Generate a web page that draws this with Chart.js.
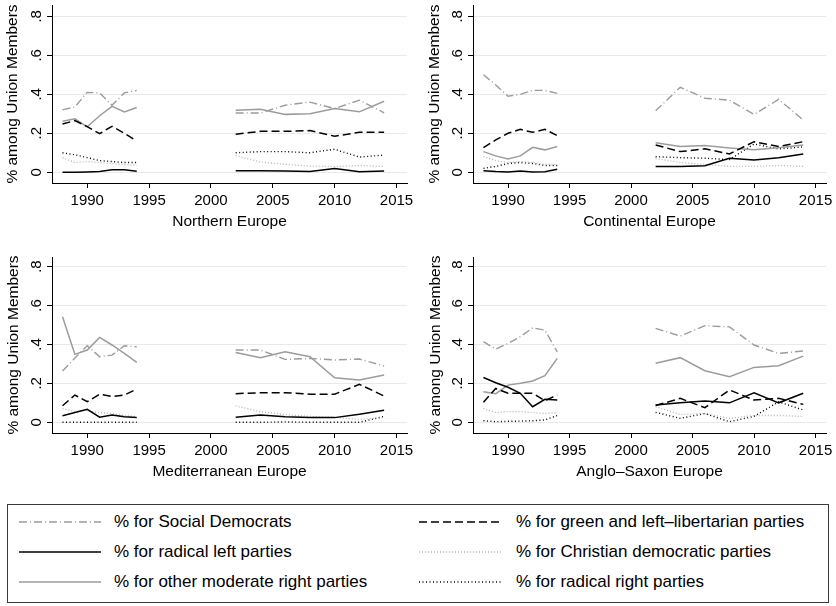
<!DOCTYPE html>
<html>
<head>
<meta charset="utf-8">
<script src="https://cdn.jsdelivr.net/npm/chart.js@4.4.1/dist/chart.umd.min.js"></script>
<style>
  html, body { margin: 0; padding: 0; background: #fff; }
  body { width: 836px; height: 606px; position: relative; overflow: hidden;
         font-family: "Liberation Sans", Arial, Helvetica, sans-serif; }
  canvas { position: absolute; }
  #legend { position: absolute; left: 7px; top: 504px; width: 822px; height: 99px;
            border: 1px solid #3a3a3a; box-sizing: border-box; }
  .lg-line { position: absolute; }
  .lg-text { position: absolute; font-size: 17px; line-height: 20px; color: #000; white-space: nowrap; }
</style>
</head>
<body>
<canvas id="pNorth"></canvas>
<canvas id="pCont"></canvas>
<canvas id="pMed"></canvas>
<canvas id="pAnglo"></canvas>
<div id="legend"></div>

<script>
// Survey waves: early annual waves and the biennial waves from 2002 on
const years1 = [1988, 1989, 1990, 1991, 1992, 1993, 1994];
const years2 = [2002, 2004, 2006, 2008, 2010, 2012, 2014];

const xTicks = [1990, 1995, 2000, 2005, 2010, 2015];
const yTicks = [0, 0.2, 0.4, 0.6, 0.8];
const yTickLabels = ['0', '.2', '.4', '.6', '.8'];

const regionNames = ['Northern Europe', 'Continental Europe', 'Mediterranean Europe', 'Anglo\u2013Saxon Europe'];
const yTitle = '% among Union Members';

// Series, in legend order (row by row)
const seriesLabels = [
  '% for Social Democrats',
  '% for green and left\u2013libertarian parties',
  '% for radical left parties',
  '% for Christian democratic parties',
  '% for other moderate right parties',
  '% for radical right parties'
];

// Northern Europe (first 7 values: 1988-1994, last 7: 2002-2014)
const northSocDem   = [0.320, 0.335, 0.410, 0.407, 0.344, 0.407, 0.420,  0.304, 0.304, 0.344, 0.360, 0.327, 0.370, 0.305];
const northGreen    = [0.248, 0.265, 0.234, 0.198, 0.236, 0.200, 0.160,  0.195, 0.210, 0.210, 0.214, 0.185, 0.205, 0.205];
const northRadLeft  = [0.000, 0.000, 0.002, 0.004, 0.013, 0.013, 0.005,  0.008, 0.008, 0.006, 0.004, 0.019, 0.003, 0.007];
const northChrist   = [0.075, 0.050, 0.055, 0.050, 0.045, 0.040, 0.035,  0.085, 0.053, 0.040, 0.032, 0.030, 0.035, 0.030];
const northModRight = [0.262, 0.274, 0.233, 0.290, 0.338, 0.310, 0.332,  0.318, 0.323, 0.297, 0.300, 0.327, 0.310, 0.364];
const northRadRight = [0.100, 0.090, 0.075, 0.060, 0.055, 0.050, 0.050,  0.100, 0.106, 0.106, 0.100, 0.118, 0.078, 0.088];

// Continental Europe
const contSocDem   = [0.500, 0.448, 0.390, 0.400, 0.420, 0.420, 0.405,  0.315, 0.436, 0.380, 0.370, 0.297, 0.374, 0.268];
const contGreen    = [0.126, 0.166, 0.200, 0.220, 0.205, 0.220, 0.188,  0.140, 0.106, 0.120, 0.094, 0.157, 0.132, 0.157];
const contRadLeft  = [0.008, 0.004, 0.002, 0.007, 0.002, 0.003, 0.015,  0.029, 0.029, 0.034, 0.072, 0.063, 0.075, 0.094];
const contChrist   = [0.080, 0.060, 0.050, 0.055, 0.050, 0.040, 0.040,  0.070, 0.050, 0.040, 0.030, 0.030, 0.035, 0.030];
const contModRight = [0.106, 0.084, 0.068, 0.084, 0.128, 0.115, 0.132,  0.152, 0.132, 0.137, 0.125, 0.116, 0.126, 0.140];
const contRadRight = [0.020, 0.030, 0.045, 0.050, 0.045, 0.035, 0.035,  0.080, 0.075, 0.072, 0.065, 0.145, 0.120, 0.130];

// Mediterranean Europe
const medSocDem   = [0.263, 0.330, 0.393, 0.337, 0.345, 0.393, 0.388,  0.371, 0.371, 0.323, 0.328, 0.320, 0.325, 0.289];
const medGreen    = [0.085, 0.140, 0.106, 0.144, 0.132, 0.140, 0.171,  0.147, 0.152, 0.152, 0.144, 0.144, 0.195, 0.135];
const medRadLeft  = [0.034, 0.050, 0.067, 0.026, 0.038, 0.029, 0.024,  0.026, 0.038, 0.029, 0.024, 0.024, 0.041, 0.062];
const medChrist   = [0.070, 0.055, 0.060, 0.050, 0.045, 0.035, 0.030,  0.084, 0.055, 0.040, 0.030, 0.025, 0.015, 0.025];
const medModRight = [0.542, 0.349, 0.371, 0.436, 0.397, 0.354, 0.308,  0.359, 0.332, 0.362, 0.337, 0.229, 0.217, 0.243];
const medRadRight = [0.000, 0.000, 0.000, 0.000, 0.000, 0.000, 0.000,  0.000, 0.000, 0.002, 0.000, 0.000, 0.000, 0.030];

// Anglo-Saxon Europe
const angloSocDem   = [0.414, 0.376, 0.405, 0.440, 0.485, 0.473, 0.362,  0.482, 0.443, 0.496, 0.490, 0.397, 0.354, 0.366];
const angloGreen    = [0.103, 0.174, 0.149, 0.149, 0.149, 0.111, 0.140,  0.086, 0.123, 0.075, 0.166, 0.114, 0.123, 0.092];
const angloRadLeft  = [0.230, 0.203, 0.180, 0.149, 0.080, 0.118, 0.114,  0.089, 0.100, 0.109, 0.100, 0.152, 0.100, 0.149];
const angloChrist   = [0.072, 0.049, 0.055, 0.055, 0.050, 0.045, 0.050,  0.080, 0.040, 0.045, 0.020, 0.035, 0.035, 0.030];
const angloModRight = [0.157, 0.147, 0.191, 0.200, 0.212, 0.239, 0.328,  0.303, 0.332, 0.265, 0.234, 0.282, 0.291, 0.340];
const angloRadRight = [0.008, 0.003, 0.005, 0.006, 0.008, 0.012, 0.035,  0.051, 0.020, 0.045, 0.003, 0.030, 0.105, 0.063];

const regionSeries = [
  [northSocDem, northGreen, northRadLeft, northChrist, northModRight, northRadRight],
  [contSocDem, contGreen, contRadLeft, contChrist, contModRight, contRadRight],
  [medSocDem, medGreen, medRadLeft, medChrist, medModRight, medRadRight],
  [angloSocDem, angloGreen, angloRadLeft, angloChrist, angloModRight, angloRadRight]
];

// Line styles, one per series (same order as seriesLabels)
const lineStyles = [
  { color: '#9c9c9c', width: 1.4, dash: [8, 3, 1, 3] },   // dash-dot grey
  { color: '#000000', width: 1.5, dash: [8, 4] },         // dashed black
  { color: '#000000', width: 1.5, dash: [] },             // solid black
  { color: '#b4b4b4', width: 1.3, dash: [1, 2] },         // dotted light grey
  { color: '#9c9c9c', width: 1.5, dash: [] },             // solid grey
  { color: '#000000', width: 1.4, dash: [1, 2.5] }        // dotted black
];

// Canvas placement and plot-area geometry per panel
const panelLayout = [
  { id: 'pNorth', left: 0,   top: 0,   w: 416, h: 245, aL: 52, aR: 407, aT: 5,  aB: 183, yMax: 0.858, titlePad: 13.5, yTitlePad: 3.5 },
  { id: 'pCont',  left: 416, top: 0,   w: 420, h: 245, aL: 57, aR: 410, aT: 5,  aB: 183, yMax: 0.858, titlePad: 13.5, yTitlePad: 9.5 },
  { id: 'pMed',   left: 0,   top: 245, w: 416, h: 245, aL: 52, aR: 407, aT: 12, aB: 188, yMax: 0.849, titlePad: 9,    yTitlePad: 4.5 },
  { id: 'pAnglo', left: 416, top: 245, w: 420, h: 245, aL: 57, aR: 410, aT: 12, aB: 188, yMax: 0.849, titlePad: 9,    yTitlePad: 10 }
];

const FONT = '"Liberation Sans", Arial, Helvetica, sans-serif';

function toPoints(values) {
  const pts = years1.map((yr, i) => ({ x: yr, y: values[i] }));
  pts.push({ x: 1998, y: null });           // break between the two survey periods
  years2.forEach((yr, i) => pts.push({ x: yr, y: values[7 + i] }));
  return pts;
}

function buildPanel(idx) {
  const L = panelLayout[idx];
  const cv = document.getElementById(L.id);
  cv.width = L.w; cv.height = L.h;
  cv.style.left = L.left + 'px'; cv.style.top = L.top + 'px';
  cv.style.width = L.w + 'px'; cv.style.height = L.h + 'px';

  const datasets = regionSeries[idx].map((vals, s) => ({
    label: seriesLabels[s],
    data: toPoints(vals),
    borderColor: lineStyles[s].color,
    borderWidth: lineStyles[s].width,
    borderDash: lineStyles[s].dash,
    pointRadius: 0,
    pointHoverRadius: 0,
    tension: 0,
    fill: false,
    spanGaps: false
  }));

  new Chart(cv, {
    type: 'line',
    data: { datasets },
    options: {
      responsive: false,
      animation: false,
      devicePixelRatio: 1,
      events: [],
      layout: { padding: { left: 0, right: L.w - L.aR, top: L.aT, bottom: 0 } },
      plugins: { legend: { display: false }, tooltip: { enabled: false }, title: { display: false } },
      scales: {
        x: {
          type: 'linear',
          min: 1987.15,
          max: 2015.85,
          afterBuildTicks: s => { s.ticks = xTicks.map(v => ({ value: v })); },
          afterFit: s => { s.height = L.h - L.aB; s.paddingLeft = 0; s.paddingRight = 0; },
          ticks: {
            autoSkip: false, maxRotation: 0, minRotation: 0, padding: 4,
            color: '#000', font: { family: FONT, size: 15 },
            callback: v => String(v)
          },
          grid: { drawOnChartArea: false, drawTicks: true, tickLength: 5, tickColor: '#000', tickWidth: 1 },
          border: { display: true, color: '#000', width: 1 },
          title: {
            display: true, text: regionNames[idx], color: '#000',
            font: { family: FONT, size: 15.5 }, padding: { top: 0, bottom: L.titlePad }
          }
        },
        y: {
          type: 'linear',
          min: -0.055,
          max: L.yMax,
          afterBuildTicks: s => { s.ticks = yTicks.map(v => ({ value: v })); },
          afterFit: s => { s.width = L.aL; s.paddingTop = 0; s.paddingBottom = 0; },
          ticks: {
            autoSkip: false, minRotation: 90, maxRotation: 90, crossAlign: 'center', padding: 4,
            color: '#000', font: { family: FONT, size: 15 },
            callback: (v) => { const k = yTicks.findIndex(t => Math.abs(t - v) < 1e-9); return k >= 0 ? yTickLabels[k] : ''; }
          },
          grid: { color: '#e9e9e9', lineWidth: 1, drawTicks: true, tickLength: 5, tickColor: '#000', tickWidth: 1 },
          border: { display: true, color: '#000', width: 1 },
          title: {
            display: true, text: yTitle, color: '#000',
            font: { family: FONT, size: 15.5 }, padding: { top: L.yTitlePad, bottom: 0 }
          }
        }
      }
    }
  });
}

for (let i = 0; i < panelLayout.length; i++) buildPanel(i);

// Legend: two columns, three rows, line sample followed by its label
const legendCols = [{ lineX: 11, textX: 106 }, { lineX: 411, textX: 508 }];
const legendRowY = [17, 47, 77];
const legend = document.getElementById('legend');
seriesLabels.forEach((label, s) => {
  const col = legendCols[s % 2];
  const rowY = legendRowY[Math.floor(s / 2)];
  const st = lineStyles[s];
  const svgNS = 'http://www.w3.org/2000/svg';
  const svg = document.createElementNS(svgNS, 'svg');
  svg.setAttribute('width', '82'); svg.setAttribute('height', '6');
  svg.setAttribute('class', 'lg-line');
  svg.style.left = col.lineX + 'px'; svg.style.top = (rowY - 3) + 'px';
  const ln = document.createElementNS(svgNS, 'line');
  ln.setAttribute('x1', '0'); ln.setAttribute('x2', '82');
  ln.setAttribute('y1', '3'); ln.setAttribute('y2', '3');
  ln.setAttribute('stroke', st.color);
  ln.setAttribute('stroke-width', String(st.width));
  if (st.dash.length) ln.setAttribute('stroke-dasharray', st.dash.join(' '));
  svg.appendChild(ln);
  legend.appendChild(svg);
  const tx = document.createElement('div');
  tx.className = 'lg-text';
  tx.textContent = label;
  tx.style.left = col.textX + 'px';
  tx.style.top = (rowY - 10) + 'px';
  legend.appendChild(tx);
});
</script>
</body>
</html>
